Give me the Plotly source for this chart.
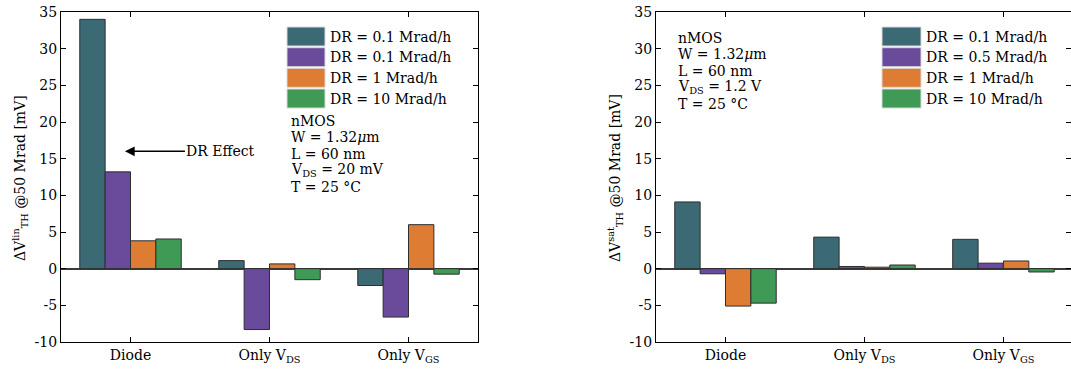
import plotly.graph_objects as go

W, H = 1071, 369

# ---- data ----
categories = ["Diode", "Only V<sub>DS</sub>", "Only V<sub>GS</sub>"]
cat_pos = [0, 1, 2]

colors = ["#3b6a75", "#6a4a9b", "#dd7c32", "#3e9a54"]

lin_labels = ["DR = 0.1 Mrad/h", "DR = 0.1 Mrad/h", "DR = 1 Mrad/h", "DR = 10 Mrad/h"]
lin_dr_01 = [34.0, 1.1, -2.3]
lin_dr_05 = [13.2, -8.3, -6.6]
lin_dr_1 = [3.8, 0.65, 6.0]
lin_dr_10 = [4.05, -1.5, -0.75]

sat_labels = ["DR = 0.1 Mrad/h", "DR = 0.5 Mrad/h", "DR = 1 Mrad/h", "DR = 10 Mrad/h"]
sat_dr_01 = [9.1, 4.3, 4.0]
sat_dr_05 = [-0.7, 0.3, 0.75]
sat_dr_1 = [-5.1, 0.2, 1.05]
sat_dr_10 = [-4.7, 0.5, -0.45]

y_ticks = [35, 30, 25, 20, 15, 10, 5, 0, -5, -10]

lin_info = ["nMOS", "W = 1.32<i>μ</i>m", "L = 60 nm", "V<sub>DS</sub> = 20 mV", "T = 25 °C"]
sat_info = ["nMOS", "W = 1.32<i>μ</i>m", "L = 60 nm", "V<sub>DS</sub> = 1.2 V", "T = 25 °C"]

FONT = "DejaVu Serif"
FS = 14


def px(x):
    return x / W


def py(y):
    return 1 - y / H


fig = go.Figure()

panels = [
    ("x", "y", [lin_dr_01, lin_dr_05, lin_dr_1, lin_dr_10], lin_labels),
    ("x2", "y2", [sat_dr_01, sat_dr_05, sat_dr_1, sat_dr_10], sat_labels),
]
for xa, ya, series, labels in panels:
    for i, vals in enumerate(series):
        fig.add_trace(go.Bar(
            x=cat_pos, y=vals, name=labels[i], xaxis=xa, yaxis=ya,
            offsetgroup=str(i), showlegend=False,
            marker=dict(color=colors[i], line=dict(color="#2e2e2e", width=1)),
        ))

tick_font = dict(family=FONT, size=FS, color="black")


def axis_style(**extra):
    d = dict(
        showline=True, linecolor="black", linewidth=1.2, mirror="ticks",
        ticks="inside", ticklen=5, tickcolor="black", tickwidth=1,
        showgrid=False, automargin=False, tickfont=tick_font,
    )
    d.update(extra)
    return d


ydom = [py(342), py(12)]
ytext = [str(t) for t in y_ticks]

fig.update_layout(
    width=W, height=H,
    margin=dict(l=0, r=0, t=0, b=0, autoexpand=False),
    font=dict(family=FONT, size=FS, color="black"),
    paper_bgcolor="white", plot_bgcolor="white",
    barmode="group", bargap=0.27, bargroupgap=0,
    xaxis=axis_style(domain=[px(61), px(478)], range=[-0.5, 2.5],
                     tickvals=cat_pos, ticktext=categories, zeroline=False),
    xaxis2=axis_style(domain=[px(656), 1.0], range=[-0.5, 2.486],
                      tickvals=cat_pos, ticktext=categories, zeroline=False,
                      anchor="y2"),
    yaxis=axis_style(domain=ydom, range=[-10, 35], tickvals=y_ticks,
                     ticktext=ytext, zeroline=True, zerolinecolor="#3a3a3a",
                     zerolinewidth=1.5),
    yaxis2=axis_style(domain=ydom, range=[-10, 35], tickvals=y_ticks,
                      ticktext=ytext, zeroline=True, zerolinecolor="#3a3a3a",
                      zerolinewidth=1.5, anchor="x2"),
)

annotations = []
shapes = []

# y-axis titles
for xc, sup in [(20, "lin"), (615, "sat")]:
    annotations.append(dict(
        xref="paper", yref="paper", x=px(xc), y=py(178), showarrow=False,
        textangle=-90, xanchor="center", yanchor="middle",
        text=f"ΔV<sup>{sup}</sup><sub>TH</sub> @50 Mrad [mV]",
        font=dict(family=FONT, size=FS, color="black"),
    ))

# legends drawn as wide swatches with labels
legend_specs = [
    (287, 325, 329, lin_labels),
    (882, 921, 925, sat_labels),
]
row_tops = [27, 47.7, 68.3, 89]
for x0, x1, xt, labels in legend_specs:
    for i, lab in enumerate(labels):
        top = row_tops[i]
        shapes.append(dict(
            type="rect", xref="paper", yref="paper",
            x0=px(x0), x1=px(x1), y0=py(top + 19), y1=py(top),
            fillcolor=colors[i], line=dict(color="#d9d9d9", width=1),
        ))
        annotations.append(dict(
            xref="paper", yref="paper", x=px(xt), y=py(top + 9.5),
            xanchor="left", yanchor="middle", showarrow=False, text=lab,
            borderpad=0, font=dict(family=FONT, size=FS, color="black"),
        ))

# device / bias information blocks
for x0, lines, y0 in [(290, lin_info, 121), (677, sat_info, 38)]:
    for j, line in enumerate(lines):
        annotations.append(dict(
            xref="paper", yref="paper", x=px(x0), y=py(y0 + 16.4 * j),
            xanchor="left", yanchor="middle", showarrow=False, text=line,
            borderpad=0, font=dict(family=FONT, size=FS, color="black"),
        ))

# dose-rate effect arrow
annotations.append(dict(
    xref="x", yref="y", x=-0.04, y=16, ax=96, ay=0,
    text="DR Effect", showarrow=True, arrowhead=2, arrowsize=1.3,
    arrowwidth=1.5, arrowcolor="black", standoff=0,
    font=dict(family=FONT, size=FS, color="black"),
))

fig.update_layout(annotations=annotations, shapes=shapes)

fig.write_html("out.html")
